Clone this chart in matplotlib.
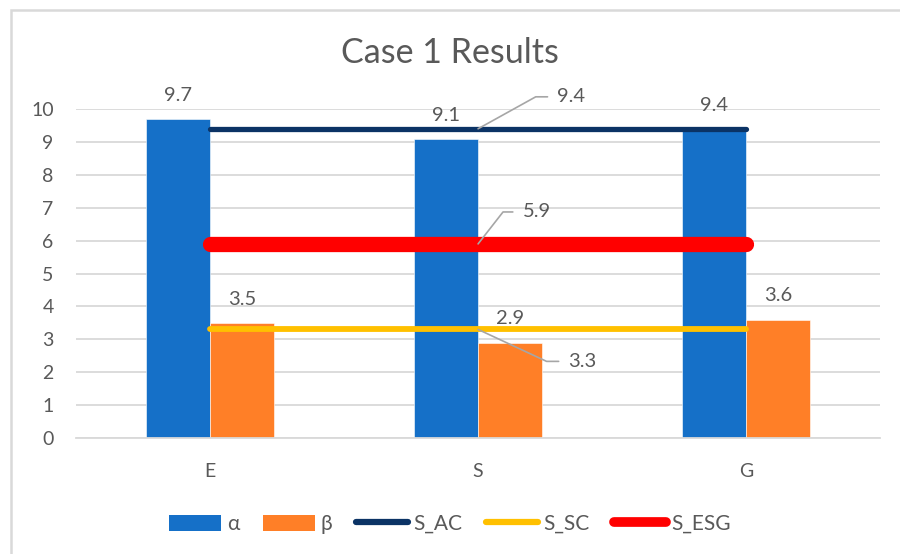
import matplotlib
matplotlib.use("Agg")
import matplotlib.pyplot as plt
import numpy as np
from matplotlib.patches import Patch, Rectangle
from matplotlib.lines import Line2D

plt.rcParams['font.family'] = ['Lato', 'DejaVu Sans']

# Data
categories = ["E", "S", "G"]
alpha_vals = [9.7, 9.1, 9.4]
beta_vals = [3.5, 2.9, 3.6]
s_ac = 9.4
s_sc = 3.3
s_esg = 5.9

title = "Case 1 Results"
yticks = list(range(0, 11))

TEXT = "#595959"
C_ALPHA = "#1570C8"
C_BETA = "#FF7F27"
C_AC = "#0B3365"
C_SC = "#FFC000"
C_ESG = "#FF0000"
GRID = "#D9D9D9"

fig = plt.figure(figsize=(9, 5.54), dpi=100)
ax = fig.add_axes([0.0844, 0.2094, 0.8936, 0.5938])

# chart frame (left & top edges visible)
fig.patches.append(Rectangle((11 / 900, -0.1), 1.2, 1 - 10 / 554 + 0.1,
                             transform=fig.transFigure, fill=False,
                             edgecolor=GRID, linewidth=1.8, zorder=0))

x = np.arange(len(categories))
w = 0.239
ax.bar(x - w / 2, alpha_vals, w, color=C_ALPHA, zorder=2,
       edgecolor="white", linewidth=0.4)
ax.bar(x + w / 2, beta_vals, w, color=C_BETA, zorder=2,
       edgecolor="white", linewidth=0.4)

# bar value labels
for xi, v in zip(x - w / 2, alpha_vals):
    ax.annotate(f"{v}", (xi, v), xytext=(0, 17), textcoords="offset points",
                ha="center", va="center", fontsize=14.5, color=TEXT)
for xi, v in zip(x + w / 2, beta_vals):
    ax.annotate(f"{v}", (xi, v), xytext=(0, 17), textcoords="offset points",
                ha="center", va="center", fontsize=14.5, color=TEXT)

# reference lines spanning category centres
ax.plot(x, [s_ac] * len(x), color=C_AC, lw=3.8, solid_capstyle="round", zorder=4)
ax.plot(x, [s_esg] * len(x), color=C_ESG, lw=11, solid_capstyle="round", zorder=4)
ax.plot(x, [s_sc] * len(x), color=C_SC, lw=4.2, solid_capstyle="round", zorder=4)

# callout labels for the reference lines
def callout(val, dx, dy, ang):
    ax.annotate(f"{val}", (x[1], val), xytext=(dx, dy), textcoords="offset points",
                ha="left", va="center", fontsize=14.5, color=TEXT, zorder=6,
                arrowprops=dict(arrowstyle="-", color="#A6A6A6", lw=1.2,
                                shrinkA=5, shrinkB=0, relpos=(0, 0.5),
                                connectionstyle=f"angle,angleA=0,angleB={ang}"))

callout(s_ac, 57, 23, 29)
callout(s_esg, 32, 23, 52)
callout(s_sc, 65, -23, -25)

ax.set_xlim(-0.5, 2.5)
ax.set_ylim(0, 10)
ax.set_yticks(yticks)
ax.set_xticks(x)
ax.set_xticklabels(categories)
ax.tick_params(axis="both", length=0, labelsize=14, labelcolor=TEXT)
ax.tick_params(axis="y", pad=16)
ax.tick_params(axis="x", pad=18)
ax.grid(axis="y", color=GRID, lw=1.3, zorder=0)
ax.set_axisbelow(True)
for s in ["left", "right", "top"]:
    ax.spines[s].set_visible(False)
ax.spines["bottom"].set_color(GRID)
ax.spines["bottom"].set_linewidth(1.3)

fig.text(0.5, 1 - 53 / 554, title, ha="center", va="center",
         fontsize=24.5, color=TEXT)

handles = [
    Patch(facecolor=C_ALPHA, label="α"),
    Patch(facecolor=C_BETA, label="β"),
    Line2D([], [], color=C_AC, lw=4.5, solid_capstyle="round", label="S_AC"),
    Line2D([], [], color=C_SC, lw=4.5, solid_capstyle="round", label="S_SC"),
    Line2D([], [], color=C_ESG, lw=7, solid_capstyle="round", label="S_ESG"),
]
leg = fig.legend(handles=handles, loc="center", bbox_to_anchor=(0.5, 1 - 524 / 554),
                 ncol=5, frameon=False, fontsize=15, labelcolor=TEXT,
                 handlelength=2.5, handleheight=0.8, handletextpad=0.25,
                 columnspacing=1.15)

fig.savefig("out.png", dpi=100, facecolor="white")
